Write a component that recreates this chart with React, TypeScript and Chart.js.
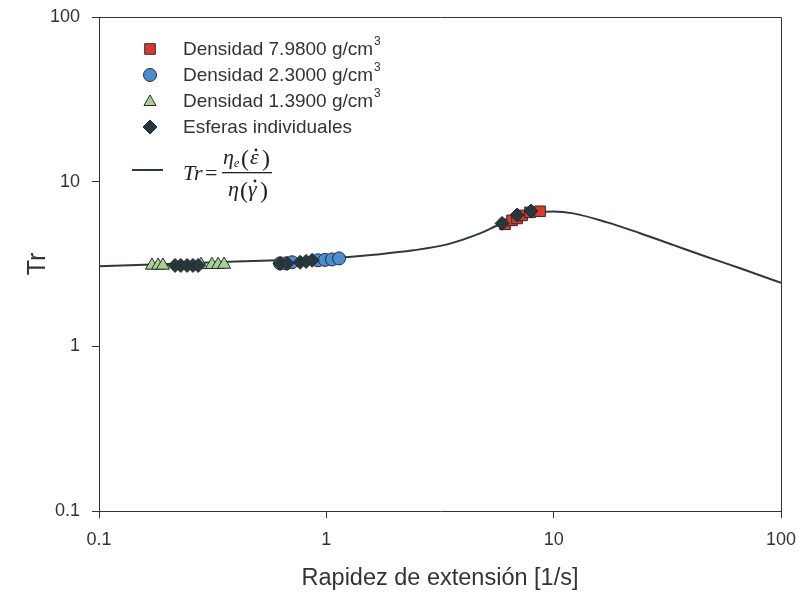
import { useEffect, useRef } from 'react';
import { Chart, registerables } from 'chart.js';

Chart.register(...registerables);

// axis ticks
const xTicks = [0.1, 1, 10, 100];
const yTicks = [0.1, 1, 10, 100];

// model curve Tr = eta_e / eta
const curveX = [0.1, 0.2, 0.4, 0.7, 1, 1.72, 2.41, 3.4, 4.74, 5.81, 7.1, 8.7, 10, 12.2, 17.2, 24, 33.5, 47.3, 66.1, 100];
const curveY = [3.06, 3.16, 3.27, 3.36, 3.42, 3.63, 3.83, 4.16, 4.85, 5.51, 6.05, 6.52, 6.6, 6.42, 5.66, 4.86, 4.13, 3.49, 2.98, 2.43];

// Densidad 7.9800
const redX = [6.11, 6.56, 6.9, 7.26, 7.87, 8.71];
const redY = [5.51, 5.82, 5.98, 6.24, 6.51, 6.61];
// Densidad 2.3000
const blueX = [0.626, 0.665, 0.707, 0.919, 0.986, 1.059, 1.137];
const blueY = [3.19, 3.19, 3.24, 3.33, 3.35, 3.37, 3.42];
// Densidad 1.3900
const greenX = [0.171, 0.182, 0.191, 0.281, 0.314, 0.334, 0.355];
const greenY = [3.1, 3.1, 3.1, 3.13, 3.13, 3.13, 3.14];
// Esferas individuales
const darkX = [0.216, 0.229, 0.244, 0.259, 0.273, 0.626, 0.672, 0.767, 0.815, 0.866, 5.93, 6.9, 7.95];
const darkY = [3.1, 3.1, 3.1, 3.1, 3.1, 3.19, 3.19, 3.24, 3.28, 3.33, 5.58, 6.27, 6.63];

const seriesLabels = ['Densidad 7.9800 g/cm³', 'Densidad 2.3000 g/cm³', 'Densidad 1.3900 g/cm³', 'Esferas individuales'];

const RED = '#d93a2f';
const BLUE = '#4a8dd2';
const GREEN = '#a6d192';
const DARK = '#28363d';
const EDGE = '#2a2a2a';
const LINE = '#2b3a40';
const TEXT = '#333333';

const pts = (xs: number[], ys: number[]) => xs.map((x, i) => ({ x, y: ys[i] }));

function marker(ctx: CanvasRenderingContext2D, style: string, x: number, y: number, r: number, fill: string) {
  ctx.save();
  ctx.beginPath();
  if (style === 'rect') {
    const s = Math.SQRT1_2 * r;
    ctx.rect(x - s, y - s, 2 * s, 2 * s);
  } else if (style === 'circle') {
    ctx.arc(x, y, r, 0, Math.PI * 2);
  } else if (style === 'triangle') {
    ctx.moveTo(x, y - r);
    ctx.lineTo(x + Math.sin((2 * Math.PI) / 3) * r, y + r / 2);
    ctx.lineTo(x - Math.sin((2 * Math.PI) / 3) * r, y + r / 2);
    ctx.closePath();
  } else {
    ctx.moveTo(x - r, y);
    ctx.lineTo(x, y - r);
    ctx.lineTo(x + r, y);
    ctx.lineTo(x, y + r);
    ctx.closePath();
  }
  ctx.fillStyle = fill;
  ctx.fill();
  ctx.lineWidth = 1;
  ctx.strokeStyle = EDGE;
  ctx.stroke();
  ctx.restore();
}

const framePlugin = {
  id: 'frame',
  afterDraw(chart: any) {
    const { ctx, chartArea: a } = chart;
    ctx.save();
    ctx.strokeStyle = TEXT;
    ctx.lineWidth = 1;
    ctx.beginPath();
    ctx.moveTo(Math.round(a.left) + 0.5, Math.round(a.top) + 0.5);
    ctx.lineTo(Math.round(a.right) + 0.5, Math.round(a.top) + 0.5);
    ctx.lineTo(Math.round(a.right) + 0.5, Math.round(a.bottom) + 0.5);
    ctx.stroke();
    ctx.restore();
  },
};

const legendPlugin = {
  id: 'customLegend',
  afterDraw(chart: any) {
    const ctx: CanvasRenderingContext2D = chart.ctx;
    const styles = ['rect', 'circle', 'triangle', 'rectRot'];
    const fills = [RED, BLUE, GREEN, DARK];
    const radii = [7.5, 6.5, 7, 7];
    const rows = [49, 75, 101, 127];
    ctx.save();
    ctx.textBaseline = 'middle';
    ctx.textAlign = 'left';
    seriesLabels.forEach((lab, i) => {
      const y = rows[i];
      marker(ctx, styles[i], 150, i === 2 ? y + 1 : y, radii[i], fills[i]);
      ctx.fillStyle = TEXT;
      ctx.font = '19px "Liberation Sans", Arial, sans-serif';
      const parts = lab.split('³');
      ctx.fillText(parts[0], 183, y + 1);
      if (parts.length > 1) {
        const w = ctx.measureText(parts[0]).width;
        ctx.font = '12px "Liberation Sans", Arial, sans-serif';
        ctx.fillText('3', 183 + w + 1, y - 7);
      }
    });
    // line entry
    ctx.strokeStyle = LINE;
    ctx.lineWidth = 2;
    ctx.beginPath();
    ctx.moveTo(132, 170);
    ctx.lineTo(163, 170);
    ctx.stroke();
    // formula
    const serif = '"Liberation Serif", "DejaVu Serif", serif';
    ctx.fillStyle = '#222';
    ctx.textBaseline = 'alphabetic';
    ctx.font = `italic 22px ${serif}`;
    ctx.fillText('Tr', 183, 180);
    ctx.font = `22px ${serif}`;
    ctx.fillText('=', 205, 180);
    ctx.fillRect(222, 172, 50, 1.3);
    // numerator
    ctx.font = `italic 22px ${serif}`;
    ctx.fillText('η', 223, 164);
    ctx.font = `italic 12px ${serif}`;
    ctx.fillText('e', 234, 167);
    ctx.font = `24px ${serif}`;
    ctx.fillText('(', 241, 166);
    ctx.font = `italic 22px ${serif}`;
    ctx.fillText('ε', 250, 164);
    ctx.beginPath();
    ctx.arc(256, 150, 1.4, 0, Math.PI * 2);
    ctx.fill();
    ctx.font = `24px ${serif}`;
    ctx.fillText(')', 262, 166);
    // denominator
    ctx.font = `italic 22px ${serif}`;
    ctx.fillText('η', 228, 196);
    ctx.font = `24px ${serif}`;
    ctx.fillText('(', 240, 198);
    ctx.font = `italic 22px ${serif}`;
    ctx.fillText('γ', 248, 196);
    ctx.beginPath();
    ctx.arc(255, 181, 1.4, 0, Math.PI * 2);
    ctx.fill();
    ctx.font = `24px ${serif}`;
    ctx.fillText(')', 260, 198);
    ctx.restore();
  },
};

export default function App() {
  const ref = useRef<HTMLCanvasElement | null>(null);
  useEffect(() => {
    document.body.style.margin = '0';
    const canvas = ref.current;
    if (!canvas) return;
    const font = { family: '"Liberation Sans", Arial, sans-serif', size: 18 };
    const scatterDs = (label: string, data: any[], style: string, r: number, fill: string, order: number) => ({
      label,
      data,
      showLine: false,
      pointStyle: style,
      pointRadius: r,
      pointHoverRadius: r,
      pointBackgroundColor: fill,
      pointBorderColor: EDGE,
      pointBorderWidth: 1,
      order,
    });
    const chart = new Chart(canvas, {
      type: 'scatter',
      data: {
        datasets: [
          {
            label: 'Tr',
            data: pts(curveX, curveY),
            showLine: true,
            pointRadius: 0,
            borderColor: LINE,
            borderWidth: 2,
            cubicInterpolationMode: 'monotone',
            order: 10,
          } as any,
          scatterDs(seriesLabels[0], pts(redX, redY), 'rect', 7.5, RED, 5),
          scatterDs(seriesLabels[1], pts(blueX, blueY), 'circle', 6.5, BLUE, 4),
          scatterDs(seriesLabels[2], pts(greenX, greenY), 'triangle', 7.5, GREEN, 3),
          scatterDs(seriesLabels[3], pts(darkX, darkY), 'rectRot', 7, DARK, 1),
        ],
      },
      options: {
        responsive: false,
        animation: false,
        layout: { padding: { left: 0, right: 18, top: 17, bottom: 0 } },
        plugins: { legend: { display: false }, tooltip: { enabled: false } },
        scales: {
          x: {
            type: 'logarithmic',
            min: 0.1,
            max: 100,
            afterBuildTicks: (s: any) => {
              s.ticks = xTicks.map((v) => ({ value: v }));
            },
            afterFit: (s: any) => {
              s.height = 83;
              s.paddingLeft = 0;
              s.paddingRight = 0;
            },
            ticks: {
              color: TEXT,
              font,
              padding: 11,
              maxRotation: 0,
              autoSkip: false,
              callback: (v: any) => String(v),
            },
            grid: { display: true, drawOnChartArea: false, drawTicks: true, tickLength: 7, color: TEXT, lineWidth: 1 },
            border: { display: true, color: TEXT, width: 1 },
            title: {
              display: true,
              text: 'Rapidez de extensión [1/s]',
              color: TEXT,
              font: { family: font.family, size: 23.5 },
              padding: { top: 0, bottom: 1 },
            },
          },
          y: {
            type: 'logarithmic',
            min: 0.1,
            max: 100,
            afterBuildTicks: (s: any) => {
              s.ticks = yTicks.map((v) => ({ value: v }));
            },
            afterFit: (s: any) => {
              s.width = 99;
              s.paddingTop = 0;
              s.paddingBottom = 0;
            },
            ticks: {
              color: TEXT,
              font,
              padding: 12,
              autoSkip: false,
              callback: (v: any) => String(v),
            },
            grid: { display: true, drawOnChartArea: false, drawTicks: true, tickLength: 7, color: TEXT, lineWidth: 1 },
            border: { display: true, color: TEXT, width: 1 },
            title: {
              display: true,
              text: 'Tr',
              color: TEXT,
              font: { family: font.family, size: 25 },
              padding: { top: 23, bottom: 0 },
            },
          },
        },
      },
      plugins: [framePlugin, legendPlugin],
    });
    return () => chart.destroy();
  }, []);
  return (
    <div style={{ width: 799, height: 594 }}>
      <canvas ref={ref} width={799} height={594} style={{ display: 'block' }} />
    </div>
  );
}
